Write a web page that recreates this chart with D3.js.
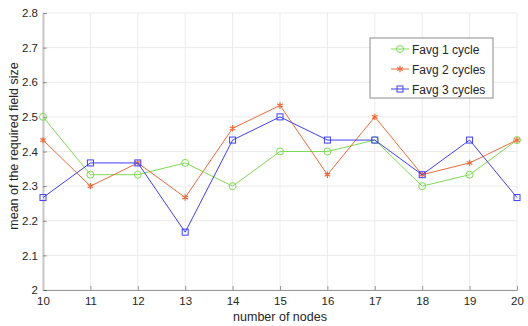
<!DOCTYPE html>
<html>
<head>
<meta charset="utf-8">
<script src="https://cdn.jsdelivr.net/npm/d3@7"></script>
<style>
  body { margin: 0; background: #fff; }
  svg { font-family: "Liberation Sans", Arial, sans-serif; }
</style>
</head>
<body>
<div id="chart"></div>
<script>
const nodes = [10, 11, 12, 13, 14, 15, 16, 17, 18, 19, 20];
const favg1 = [2.5, 2.333, 2.333, 2.367, 2.3, 2.4, 2.4, 2.433, 2.3, 2.333, 2.433];
const favg2 = [2.433, 2.3, 2.367, 2.267, 2.467, 2.533, 2.333, 2.5, 2.333, 2.367, 2.433];
const favg3 = [2.267, 2.367, 2.367, 2.167, 2.433, 2.5, 2.433, 2.433, 2.333, 2.433, 2.267];
const yTicks = [2, 2.1, 2.2, 2.3, 2.4, 2.5, 2.6, 2.7, 2.8];

const series = [
  { name: "Favg 1 cycle", values: favg1, color: "#7ed957", marker: "circle" },
  { name: "Favg 2 cycles", values: favg2, color: "#ee6a3c", marker: "star" },
  { name: "Favg 3 cycles", values: favg3, color: "#3f3ff5", marker: "square" }
];

const W = 528, H = 326;
const margin = { top: 13, right: 11, bottom: 36, left: 43 };
const width = W - margin.left - margin.right;
const height = H - margin.top - margin.bottom;

const svg = d3.select("#chart").append("svg")
  .attr("width", W).attr("height", H);
const g = svg.append("g")
  .attr("transform", "translate(" + margin.left + "," + margin.top + ")");

const x = d3.scaleLinear().domain([10, 20]).range([0, width]);
const y = d3.scaleLinear().domain([2, 2.8]).range([height, 0]);

// grid
g.append("g").selectAll("line").data(nodes).enter().append("line")
  .attr("x1", d => x(d)).attr("x2", d => x(d))
  .attr("y1", 0).attr("y2", height)
  .attr("stroke", "#ebebeb");
g.append("g").selectAll("line").data(yTicks).enter().append("line")
  .attr("x1", 0).attr("x2", width)
  .attr("y1", d => y(d)).attr("y2", d => y(d))
  .attr("stroke", "#ebebeb");

// axes
const xAxis = g.append("g")
  .attr("transform", "translate(0," + height + ")")
  .call(d3.axisBottom(x).tickValues(nodes).tickFormat(d3.format("d")).tickSize(-4).tickSizeOuter(0).tickPadding(7));
const yAxis = g.append("g")
  .call(d3.axisLeft(y).tickValues(yTicks).tickFormat(d => d === 2 ? "2" : d3.format(".1f")(d)).tickSize(-4).tickSizeOuter(0).tickPadding(5));
[xAxis, yAxis].forEach(a => {
  a.attr("font-family", null).attr("font-size", null);
  a.selectAll("path").attr("stroke", "#262626").attr("stroke-opacity", 0.45);
  a.selectAll("line").attr("stroke", "#262626").attr("stroke-opacity", 0.45);
  a.selectAll("text").attr("fill", "#262626").style("font-size", "11.5px");
});
yAxis.select("path").attr("stroke-width", 2).attr("stroke", "#c8c8c8").attr("stroke-opacity", 1);

// lines + markers
const line = d3.line().x((d, i) => x(nodes[i])).y(d => y(d));
function drawMarker(sel, type, color) {
  if (type === "circle") {
    sel.append("circle").attr("r", 3.5).attr("fill", "none").attr("stroke", color);
  } else if (type === "square") {
    sel.append("rect").attr("x", -3).attr("y", -3).attr("width", 6).attr("height", 6)
      .attr("fill", "none").attr("stroke", color);
  } else {
    sel.append("path").attr("d", d3.symbol(d3.symbolAsterisk, 28)())
      .attr("fill", "none").attr("stroke", color).attr("stroke-width", 1.2);
  }
}
series.forEach(s => {
  g.append("path").datum(s.values)
    .attr("d", line).attr("fill", "none")
    .attr("stroke", s.color).attr("stroke-width", 1);
  g.append("g").selectAll("g").data(s.values).enter().append("g")
    .attr("transform", (d, i) => "translate(" + x(nodes[i]) + "," + y(d) + ")")
    .each(function () { drawMarker(d3.select(this), s.marker, s.color); });
});

// axis labels
svg.append("text")
  .attr("x", margin.left + width / 2).attr("y", H - 5)
  .attr("text-anchor", "middle").attr("fill", "#262626").style("font-size", "12.5px")
  .text("number of nodes");
svg.append("text")
  .attr("transform", "translate(18,146) rotate(-90)")
  .attr("text-anchor", "middle").attr("fill", "#262626").style("font-size", "12.5px")
  .text("mean of the required field size");

// legend
const legend = svg.append("g").attr("transform", "translate(370,38)");
legend.append("rect").attr("width", 123).attr("height", 60)
  .attr("fill", "#fff").attr("stroke", "#8c8c8c");
series.forEach((s, i) => {
  const row = legend.append("g").attr("transform", "translate(0," + (11 + i * 20) + ")");
  row.append("line").attr("x1", 21).attr("x2", 39).attr("stroke", s.color);
  const m = row.append("g").attr("transform", "translate(30,0)");
  drawMarker(m, s.marker, s.color);
  row.append("text").attr("x", 42).attr("y", 4.5)
    .attr("fill", "#262626").style("font-size", "12px").text(s.name);
});
</script>
</body>
</html>
